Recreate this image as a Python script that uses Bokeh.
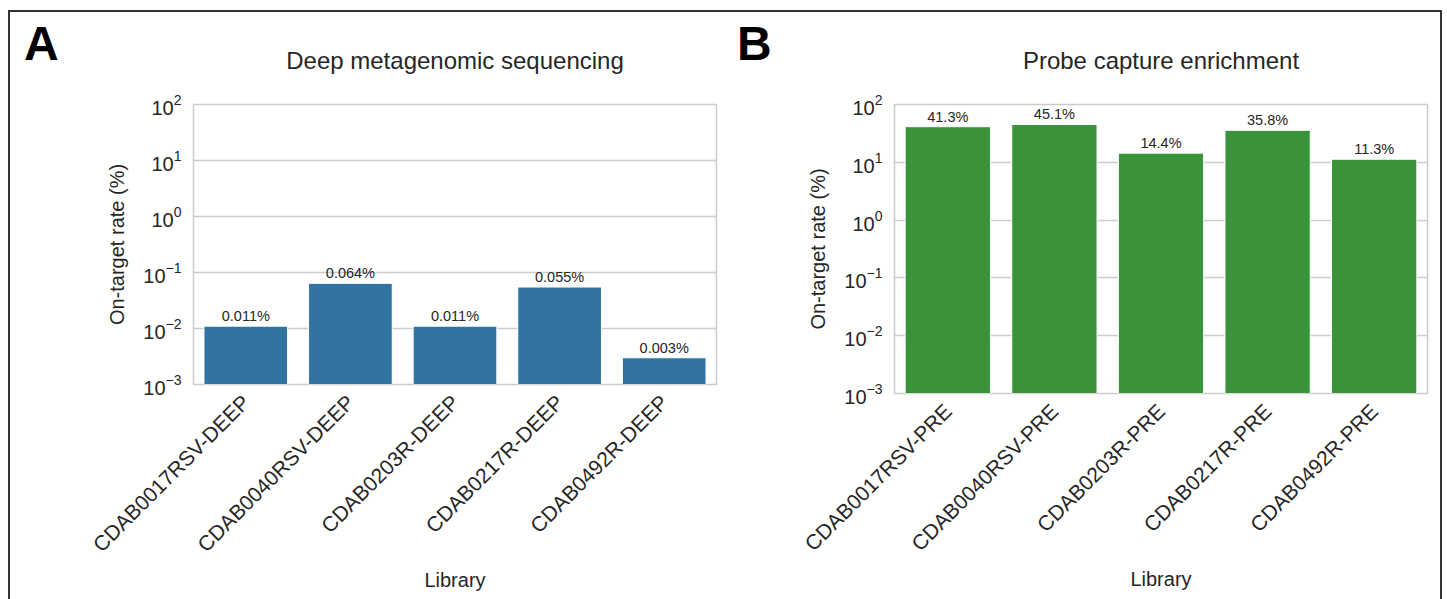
import math
from bokeh.plotting import figure
from bokeh.models import Range1d, FactorRange, FixedTicker, LogTickFormatter, ColumnDataSource, Title, Div
from bokeh.layouts import row
from bokeh.core.properties import value
from bokeh.embed import file_html
from bokeh.resources import INLINE

# ---- data ----
deep_libraries = ["CDAB0017RSV-DEEP", "CDAB0040RSV-DEEP", "CDAB0203R-DEEP", "CDAB0217R-DEEP", "CDAB0492R-DEEP"]
deep_rates = [0.011, 0.064, 0.011, 0.055, 0.003]
pre_libraries = ["CDAB0017RSV-PRE", "CDAB0040RSV-PRE", "CDAB0203R-PRE", "CDAB0217R-PRE", "CDAB0492R-PRE"]
pre_rates = [41.3, 45.1, 14.4, 35.8, 11.3]
y_ticks = [1e-3, 1e-2, 1e-1, 1e0, 1e1, 1e2]
y_min, y_max = 1e-3, 1e2

FONT = "Liberation Sans"
TXT = "#262626"
GRID = "#cccccc"
H = 588
TOP = 92


def letter_div(letter, w, left):
    html = ('<div style="position:relative; left:%dpx; top:8px; font-family:\'Liberation Sans\';'
            ' font-size:48px; font-weight:bold; line-height:48px; color:black;">%s</div>'
            % (left, letter))
    return Div(text=html, width=w, height=H, margin=0, align="start")


def panel(cats, vals, fmt, color, title, fw, fh, mbl, mbr):
    p = figure(x_range=FactorRange(factors=cats), y_range=Range1d(y_min, y_max),
               y_axis_type="log", frame_width=fw, frame_height=fh,
               min_border_left=mbl, min_border_right=mbr, min_border_top=TOP,
               min_border_bottom=H - TOP - fh, output_backend="svg", toolbar_location=None,
               align="start", background_fill_color="white", border_fill_color="white")
    p.title = Title(text=title, align="center", text_font=FONT, text_font_size="24px",
                    text_font_style="normal", text_color=TXT, standoff=62)
    labels = [fmt.format(v) for v in vals]
    src = ColumnDataSource(dict(x=cats, top=vals, lab=labels))
    p.vbar(x="x", top="top", bottom=y_min, width=0.8, source=src,
           fill_color=color, line_color="white", line_width=1)
    p.text(x="x", y="top", text="lab", source=src, text_align="center",
           text_baseline="bottom", y_offset=-2, text_font=value(FONT),
           text_font_size="14.5px", text_color=TXT)

    p.outline_line_color = GRID
    p.outline_line_width = 1.5
    p.xgrid.grid_line_color = None
    p.ygrid.grid_line_color = GRID
    p.ygrid.grid_line_width = 1.5

    p.yaxis.ticker = FixedTicker(ticks=y_ticks, minor_ticks=[])
    p.yaxis.formatter = LogTickFormatter()
    for ax in (p.xaxis[0], p.yaxis[0]):
        ax.axis_line_color = None
        ax.major_tick_line_color = None
        ax.minor_tick_line_color = None
        ax.major_tick_out = 0
        ax.major_tick_in = 0
        ax.major_label_text_font = FONT
        ax.major_label_text_color = TXT
        ax.axis_label_text_font = FONT
        ax.axis_label_text_font_style = "normal"
        ax.axis_label_text_font_size = "20px"
        ax.axis_label_text_color = TXT
    p.yaxis.major_label_text_font_size = "20px"
    p.yaxis.major_label_standoff = 12
    p.yaxis.axis_label = "On-target rate (%)"
    p.yaxis.axis_label_standoff = 12
    p.xaxis.major_label_text_font_size = "21px"
    p.xaxis.major_label_orientation = math.pi / 4
    p.xaxis.major_label_standoff = 14
    p.xaxis.axis_label = "Library"
    p.xaxis.axis_label_standoff = 2
    return p


lA = letter_div("A", 50, 14)
pA = panel(deep_libraries, deep_rates, "{:.3f}%", "#3274a1", "Deep metagenomic sequencing",
           523, 280, 133, 14)
lB = letter_div("B", 50, 7)
pB = panel(pre_libraries, pre_rates, "{:.1f}%", "#3a923a", "Probe capture enrichment",
           533, 289, 114, 13)

layout = row(lA, pA, lB, pB, styles={"border": "2px solid #333333", "margin-left": "8px",
                                     "margin-top": "10px", "background-color": "white"})

open("out.html", "w").write(file_html(layout, INLINE))
